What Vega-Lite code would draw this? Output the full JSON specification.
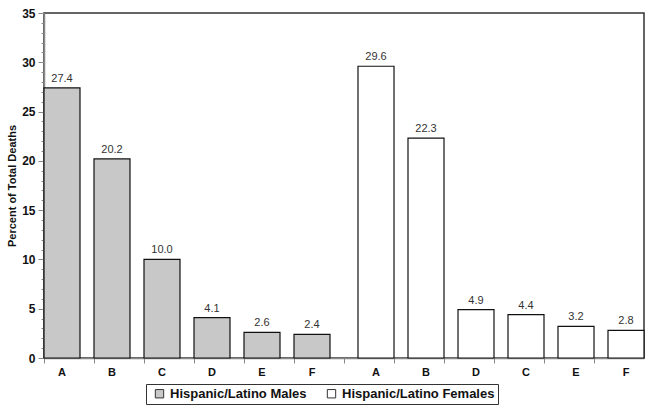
{
  "$schema": "https://vega.github.io/schema/vega-lite/v6.json",
  "width": 600,
  "height": 345,
  "autosize": "none",
  "padding": {"left": 44, "top": 13, "right": 10, "bottom": 56},
  "background": "white",
  "config": {
    "font": "Liberation Sans",
    "view": {"stroke": "#333333", "strokeWidth": 1.5}
  },
  "data": {
    "values": [
      {"key": "M-A", "cause": "A", "series": "Hispanic/Latino Males", "value": 27.4},
      {"key": "M-B", "cause": "B", "series": "Hispanic/Latino Males", "value": 20.2},
      {"key": "M-C", "cause": "C", "series": "Hispanic/Latino Males", "value": 10.0},
      {"key": "M-D", "cause": "D", "series": "Hispanic/Latino Males", "value": 4.1},
      {"key": "M-E", "cause": "E", "series": "Hispanic/Latino Males", "value": 2.6},
      {"key": "M-F", "cause": "F", "series": "Hispanic/Latino Males", "value": 2.4},
      {"key": "F-A", "cause": "A", "series": "Hispanic/Latino Females", "value": 29.6},
      {"key": "F-B", "cause": "B", "series": "Hispanic/Latino Females", "value": 22.3},
      {"key": "F-D", "cause": "D", "series": "Hispanic/Latino Females", "value": 4.9},
      {"key": "F-C", "cause": "C", "series": "Hispanic/Latino Females", "value": 4.4},
      {"key": "F-E", "cause": "E", "series": "Hispanic/Latino Females", "value": 3.2},
      {"key": "F-F", "cause": "F", "series": "Hispanic/Latino Females", "value": 2.8}
    ]
  },
  "encoding": {
    "x": {
      "field": "key",
      "type": "nominal",
      "sort": null,
      "scale": {"paddingInner": 0, "paddingOuter": 0},
      "axis": {
        "title": null,
        "labels": false,
        "bandPosition": 0,
        "tickColor": "#888888",
        "tickSize": 5,
        "tickWidth": 1,
        "domainColor": "#888888",
        "domainWidth": 1.5
      }
    },
    "y": {
      "field": "value",
      "type": "quantitative",
      "scale": {"domain": [0, 35], "nice": false},
      "axis": {
        "title": "Percent of Total Deaths",
        "titleFontSize": 11,
        "titleFontWeight": "bold",
        "titleColor": "#111111",
        "values": [0,1,2,3,4,5,6,7,8,9,10,11,12,13,14,15,16,17,18,19,20,21,22,23,24,25,26,27,28,29,30,31,32,33,34,35],
        "labelExpr": "datum.value % 5 === 0 ? datum.label : ''",
        "labelFontSize": 12,
        "labelFontWeight": "bold",
        "labelColor": "#111111",
        "labelPadding": 3,
        "grid": false,
        "domainColor": "#888888",
        "domainWidth": 1.5,
        "tickColor": "#888888",
        "tickSize": {"condition": {"test": "datum.value % 5 === 0", "value": 6}, "value": 3}
      }
    }
  },
  "layer": [
    {
      "mark": {
        "type": "bar",
        "width": 36,
        "stroke": "#111111",
        "strokeWidth": 1.2,
        "xOffset": {"expr": "datum.series === 'Hispanic/Latino Males' ? -7 : 7"}
      },
      "encoding": {
        "fill": {
          "field": "series",
          "type": "nominal",
          "scale": {
            "domain": ["Hispanic/Latino Males", "Hispanic/Latino Females"],
            "range": ["#c8c8c8", "#ffffff"]
          },
          "legend": {
            "title": null,
            "orient": "none",
            "legendX": 102,
            "legendY": 371,
            "direction": "horizontal",
            "symbolType": "square",
            "symbolSize": 70,
            "symbolStrokeColor": "#333333",
            "symbolStrokeWidth": 1,
            "labelFontSize": 13,
            "labelFontWeight": "bold",
            "labelColor": "#111111",
            "labelLimit": 300,
            "strokeColor": "#333333",
            "padding": 3,
            "columnPadding": 14,
            "symbolOffset": 4
          }
        }
      }
    },
    {
      "mark": {
        "type": "text",
        "baseline": "bottom",
        "dy": -4,
        "fontSize": 11,
        "color": "#333333",
        "xOffset": {"expr": "datum.series === 'Hispanic/Latino Males' ? -7 : 7"}
      },
      "encoding": {
        "text": {"field": "value", "type": "quantitative", "format": ".1f"}
      }
    },
    {
      "mark": {
        "type": "text",
        "baseline": "top",
        "dy": 9,
        "fontSize": 11,
        "fontWeight": "bold",
        "color": "#111111",
        "xOffset": {"expr": "datum.series === 'Hispanic/Latino Males' ? -7 : 7"}
      },
      "encoding": {
        "y": {"datum": 0},
        "text": {"field": "cause", "type": "nominal"}
      }
    }
  ]
}
